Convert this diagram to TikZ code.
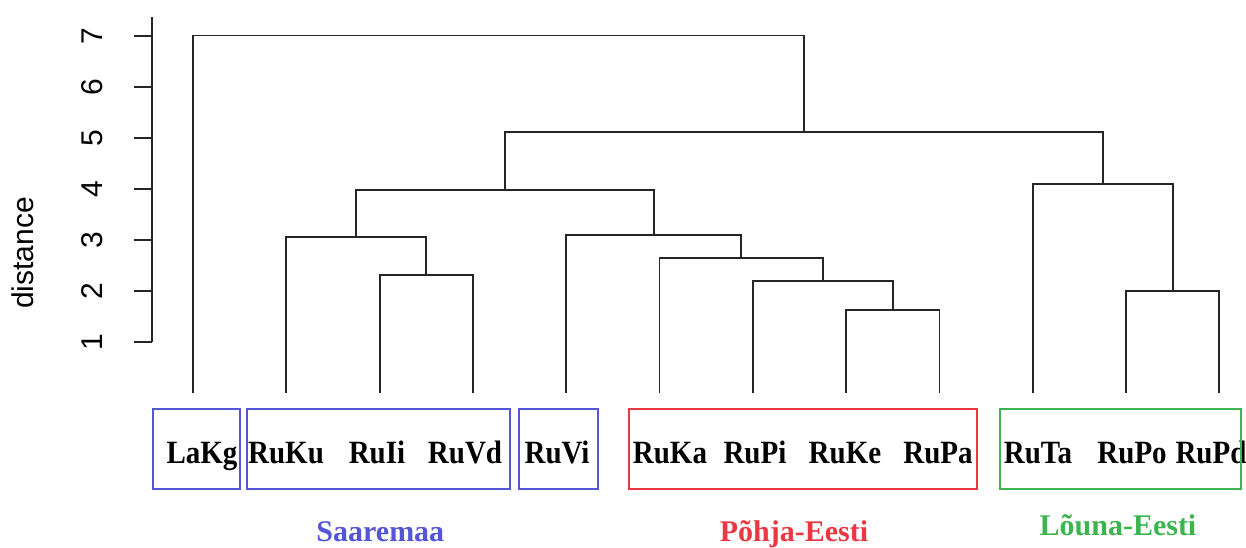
\documentclass[tikz,border=0pt]{standalone}
\usepackage{fontspec}
\setmainfont{Liberation Serif}
\setsansfont{Liberation Sans}

\definecolor{saarecol}{RGB}{85,85,215}
\definecolor{pohjacol}{RGB}{235,55,65}
\definecolor{lounacol}{RGB}{60,180,80}

\begin{document}
\begin{tikzpicture}[x=46.65pt,y=25.5pt,
    link/.style={line width=0.9pt,black!85},
    leaf/.style={anchor=base,font=\fontsize{14.5}{16}\selectfont\bfseries},
    grp/.style={line width=0.9pt},
    region/.style={anchor=base,font=\fontsize{15}{17}\selectfont\bfseries},
    axlab/.style={rotate=90,font=\sffamily\fontsize{15}{17}\selectfont}]
\useasboundingbox (-1.0686,-3.0196) rectangle (12.2862,7.7059);

% distance axis
\coordinate (ax0) at (0.5606,1);
\coordinate (ax1) at (0.5606,7.37);
\draw[link] (ax0) -- (ax1);
\foreach \h in {1,...,7}{
  \coordinate (tk\h) at (0.3698,\h);
  \draw[link] (tk\h) -- (ax0 |- tk\h);
  \node[axlab] (tl\h) at (-0.083,\h) {\h};
}
\node[axlab] (ylab) at (-0.822,2.745) {distance};

% leaves
\foreach \n/\i in {LaKg/1,RuKu/2,RuIi/3,RuVd/4,RuVi/5,RuKa/6,RuPi/7,RuKe/8,RuPa/9,RuTa/10,RuPo/11,RuPd/12}
  \coordinate (\n) at (\i,0);

% merges
\coordinate (m1) at (8.5,1.63);
\draw[link] (RuKe) |- (m1) -| (RuPa);
\coordinate (m2) at (7.75,2.20);
\draw[link] (RuPi) |- (m2) -| (m1);
\coordinate (m3) at (6.875,2.65);
\draw[link] (RuKa) |- (m3) -| (m2);
\coordinate (m4) at (5.9375,3.10);
\draw[link] (RuVi) |- (m4) -| (m3);
\coordinate (m5) at (3.5,2.31);
\draw[link] (RuIi) |- (m5) -| (RuVd);
\coordinate (m6) at (2.75,3.06);
\draw[link] (RuKu) |- (m6) -| (m5);
\coordinate (m7) at (4.34375,3.98);
\draw[link] (m6) |- (m7) -| (m4);
\coordinate (m8) at (11.5,2.0);
\draw[link] (RuPo) |- (m8) -| (RuPd);
\coordinate (m9) at (10.75,4.10);
\draw[link] (RuTa) |- (m9) -| (m8);
\coordinate (m10) at (7.546875,5.12);
\draw[link] (m7) |- (m10) -| (m9);
\coordinate (root) at (4.2734,7.01);
\draw[link] (LaKg) |- (root) -| (m10);

% leaf labels
\foreach \n/\x in {LaKg/1.096,RuKu/1.997,RuIi/2.972,RuVd/3.916,RuVi/4.902,RuKa/6.112,RuPi/7.023,RuKe/7.988,RuPa/8.985,RuTa/10.057,RuPo/11.065,RuPd/11.911}
  \node[leaf] (l\n) at (\x,-1.373) {\scalebox{1}[1.12]{\n}};

% group boxes
\draw[grp,saarecol] (0.571,-0.314) rectangle (1.504,-1.882);
\draw[grp,saarecol] (1.579,-0.314) rectangle (4.398,-1.882);
\draw[grp,saarecol] (4.494,-0.314) rectangle (5.341,-1.882);
\draw[grp,pohjacol] (5.673,-0.314) rectangle (9.403,-1.882);
\draw[grp,lounacol] (9.650,-0.314) rectangle (12.232,-1.882);

% regions
\node[region,saarecol] (saare) at (3.008,-2.912) {Saaremaa};
\node[region,pohjacol] (pohja) at (7.441,-2.912) {Põhja-Eesti};
\node[region,lounacol] (louna) at (10.914,-2.794) {Lõuna-Eesti};
\end{tikzpicture}
\end{document}
